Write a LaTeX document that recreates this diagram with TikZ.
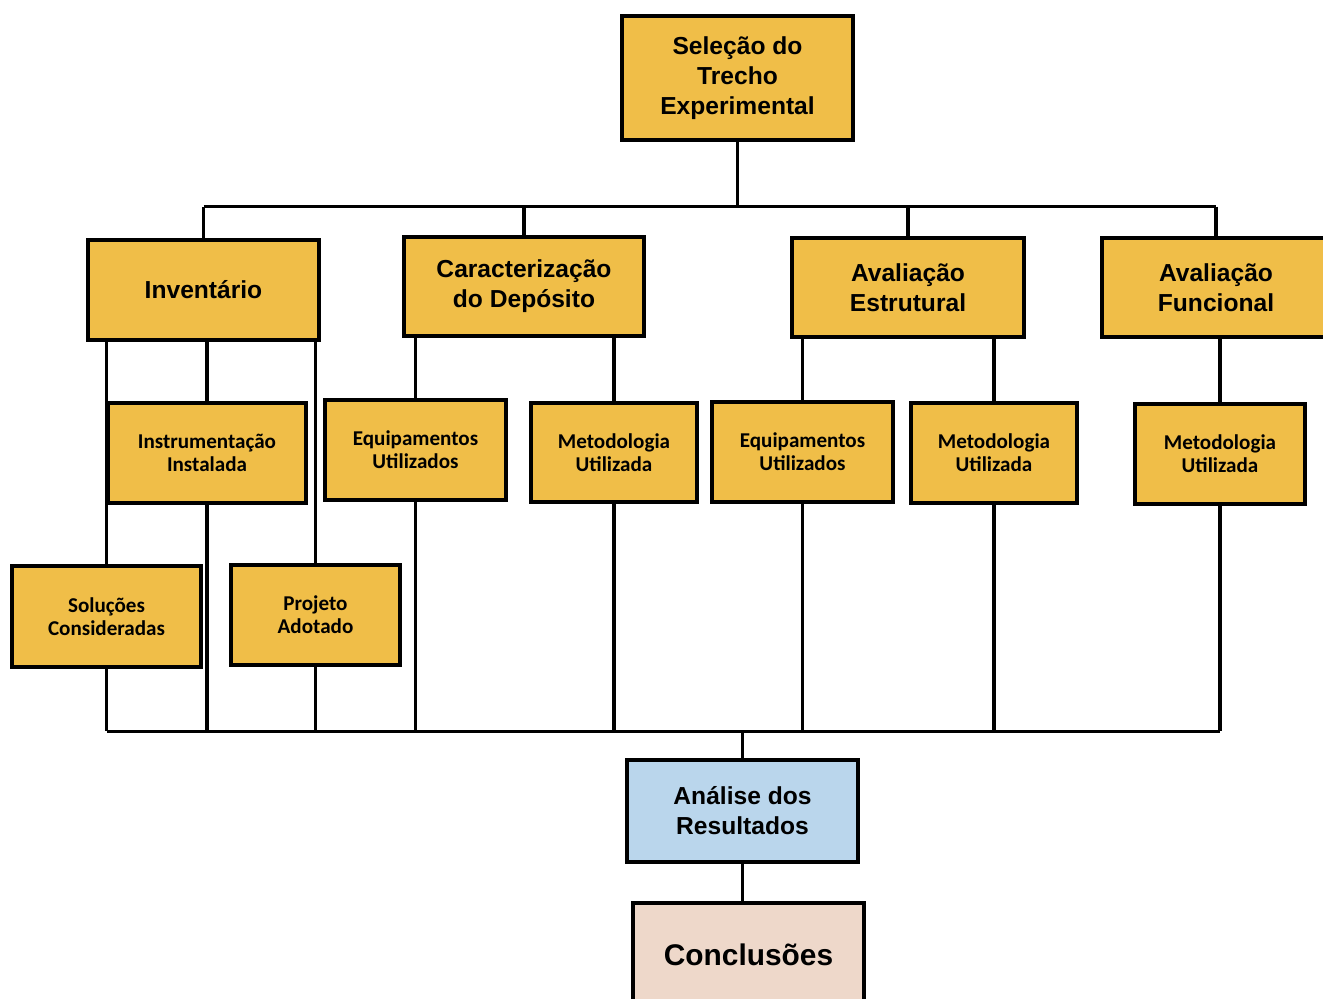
\documentclass[tikz,border=0pt]{standalone}
\usepackage{fontspec}
\setmainfont{Liberation Sans}
\newfontfamily\fontcaixa{Carlito}
\usepackage{tikz}

\definecolor{amarelo}{RGB}{240,190,72}
\definecolor{azul}{RGB}{186,214,236}
\definecolor{rosa}{RGB}{238,216,202}

\tikzset{
    caixa/.style={draw=black,line width=2pt,fill=amarelo,align=center,inner sep=2pt,
        font=\fontsize{14}{17}\selectfont\bfseries},
    caixinha/.style={caixa,font=\fontcaixa\fontsize{12}{13}\selectfont\bfseries},
    liga/.style={line width=1.9pt}
}

\begin{document}
\begin{tikzpicture}[x=0.02cm,y=-0.02cm]
            \useasboundingbox (0,0) rectangle (1323,999);

            % nivel 1
            \node[caixa,minimum width=4.62cm,minimum height=2.48cm] (sel) at (737.5,78) {Seleção do\\Trecho\\Experimental};
            \node[caixa,minimum width=4.62cm,minimum height=2.00cm] (inv) at (203.5,290) {Inventário};
            \node[caixa,minimum width=4.80cm,minimum height=1.98cm] (car) at (524,286.5) {Caracterização\\do Depósito};
            \node[caixa,minimum width=4.64cm,minimum height=1.98cm] (est) at (908,287.5) {Avaliação\\Estrutural};
            \node[caixa,minimum width=4.56cm,minimum height=1.98cm] (fun) at (1216,287.5) {Avaliação\\Funcional};

            % nivel 2
            \node[caixinha,minimum width=3.96cm,minimum height=2.00cm] (ins) at (207,453) {Instrumentação\\Instalada};
            \node[caixinha,minimum width=3.62cm,minimum height=2.00cm] (eqa) at (415.5,450) {Equipamentos\\Utilizados};
            \node[caixinha,minimum width=3.32cm,minimum height=1.98cm] (mea) at (614,452.5) {Metodologia\\Utilizada};
            \node[caixinha,minimum width=3.62cm,minimum height=2.00cm] (eqb) at (802.5,452) {Equipamentos\\Utilizados};
            \node[caixinha,minimum width=3.32cm,minimum height=2.00cm] (meb) at (994,453) {Metodologia\\Utilizada};
            \node[caixinha,minimum width=3.40cm,minimum height=2.00cm] (mec) at (1220,454) {Metodologia\\Utilizada};

            % nivel 3
            \node[caixinha,minimum width=3.78cm,minimum height=2.02cm] (sol) at (106.5,616.5) {Soluções\\Consideradas};
            \node[caixinha,minimum width=3.38cm,minimum height=2.00cm] (pro) at (315.5,615) {Projeto\\Adotado};

            % final
            \node[caixa,fill=azul,minimum width=4.62cm,minimum height=2.04cm] (ana) at (742.5,811) {Análise dos\\Resultados};
            \node[caixa,fill=rosa,minimum width=4.62cm,minimum height=2.08cm,
                font=\fontsize{17}{20}\selectfont\bfseries] (con) at (748.5,955) {Conclusões};

            % barra de cima
            \draw[liga] (sel.south) -- ++(0,65) coordinate (bt);
            \draw[liga] (inv.north |- bt) -- (fun.north |- bt);
            \foreach \n in {inv,car,est,fun}
                \draw[liga] (\n.north |- bt) -- (\n.north);

            % ligacoes intermediarias
            \foreach \a/\b in {inv/sol,inv/ins,inv/pro,car/eqa,car/mea,est/eqb,est/meb,fun/mec}
                \draw[liga] (\b.north |- \a.south) -- (\b.north);

            % barra de baixo
            \draw[liga] (ana.north) -- ++(0,-27) coordinate (bb);
            \draw[liga] (sol.south |- bb) -- (mec.south |- bb);
            \foreach \n in {sol,ins,pro,eqa,mea,eqb,meb,mec}
                \draw[liga] (\n.south) -- (\n.south |- bb);

            \draw[liga] (ana.south) -- (ana.south |- con.north);
        \end{tikzpicture}
\end{document}
